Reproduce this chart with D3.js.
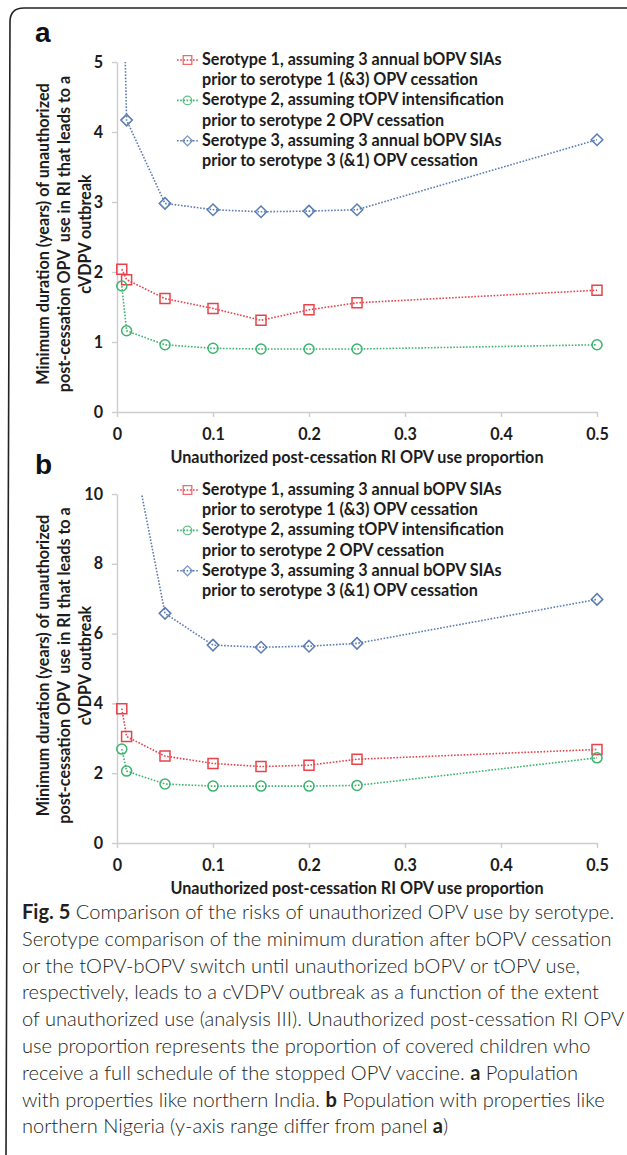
<!DOCTYPE html>
<html>
<head>
<meta charset="utf-8">
<script src="https://cdn.jsdelivr.net/npm/d3@7"></script>
<style>
  html, body { margin: 0; padding: 0; background: #fff; }
  svg { display: block; }
  text { white-space: pre; }
</style>
</head>
<body>
<svg id="fig" width="627" height="1155"></svg>
<script>
// ---- data ---------------------------------------------------------------
const useProportion = [0.005, 0.01, 0.05, 0.1, 0.15, 0.2, 0.25, 0.5];
const xTickValues = [0, 0.1, 0.2, 0.3, 0.4, 0.5];
const xTickLabels = ["0", "0.1", "0.2", "0.3", "0.4", "0.5"];

// Panel a: population like northern India (years)
const indiaSerotype1 = [2.04, 1.89, 1.62, 1.48, 1.31, 1.46, 1.56, 1.74];
const indiaSerotype2 = [1.80, 1.16, 0.96, 0.91, 0.90, 0.90, 0.90, 0.96];
const indiaSerotype3 = [7.2, 4.17, 2.98, 2.89, 2.86, 2.87, 2.89, 3.89];
const indiaYTicks = [0, 1, 2, 3, 4, 5];

// Panel b: population like northern Nigeria (years)
const nigeriaSerotype1 = [3.85, 3.05, 2.49, 2.28, 2.19, 2.23, 2.40, 2.68];
const nigeriaSerotype2 = [2.69, 2.06, 1.69, 1.63, 1.63, 1.63, 1.65, 2.44];
const nigeriaSerotype3 = [20, 12.2, 6.58, 5.67, 5.61, 5.64, 5.72, 6.98];
const nigeriaYTicks = [0, 2, 4, 6, 8, 10];

const legendLabels = [
  ["Serotype 1, assuming 3 annual bOPV SIAs", "prior to serotype 1 (&3) OPV cessation"],
  ["Serotype 2, assuming tOPV intensification", "prior to serotype 2 OPV cessation"],
  ["Serotype 3, assuming 3 annual bOPV SIAs", "prior to serotype 3 (&1) OPV cessation"]
];
const yTitleLines = [
  "Minimum duration (years) of unauthorized",
  "post-cessation OPV  use in RI that leads to a",
  "cVDPV outbreak"
];
const xTitle = "Unauthorized post-cessation RI OPV use proportion";

const captionLines = [
  [["Fig. 5", true], [" Comparison of the risks of unauthorized OPV use by serotype.", false]],
  [["Serotype comparison of the minimum duration after bOPV cessation", false]],
  [["or the tOPV-bOPV switch until unauthorized bOPV or tOPV use,", false]],
  [["respectively, leads to a cVDPV outbreak as a function of the extent", false]],
  [["of unauthorized use (analysis III). Unauthorized post-cessation RI OPV", false]],
  [["use proportion represents the proportion of covered children who", false]],
  [["receive a full schedule of the stopped OPV vaccine. ", false], ["a", true], [" Population", false]],
  [["with properties like northern India. ", false], ["b", true], [" Population with properties like", false]],
  [["northern Nigeria (y-axis range differ from panel ", false], ["a", true], [")", false]]
];

// ---- styling ------------------------------------------------------------
const chartFont = "Lato, 'Open Sans', 'DejaVu Sans', sans-serif";
const captionFont = "Lato, 'Open Sans', 'DejaVu Sans', sans-serif";
const textColor = "#1c1c1c";
const axisColor = "#cdcdcd";
const seriesStyle = [
  { color: "#e8434b", shape: "square" },
  { color: "#3cb46e", shape: "circle" },
  { color: "#5b7db1", shape: "diamond" }
];

const svg = d3.select("#fig");
svg.append("rect").attr("width", 627).attr("height", 1155).attr("fill", "#fff");

// text width helper, used to size fonts to the available room
function measure(str, family, weight, size) {
  const t = svg.append("text")
    .attr("font-family", family).attr("font-weight", weight)
    .attr("font-size", size).text(str);
  const w = t.node().getComputedTextLength();
  t.remove();
  return w;
}
const chartSize = 15 * 300 / measure(legendLabels[0][0], chartFont, 700, 15);
const captionSize = 18 * 590 / measure(captionLines[1][0][0], captionFont, 300, 18);

// rounded figure frame
svg.append("path")
  .attr("d", "M6,1160 L10,22 Q10,8 24,8 L660,8")
  .attr("fill", "none").attr("stroke", "#222").attr("stroke-width", 1.6);

function markerPath(shape, s) {
  if (shape === "square") return `M${-s},${-s}H${s}V${s}H${-s}Z`;
  if (shape === "diamond") { const d = s * 1.15; return `M0,${-d}L${d},0L0,${d}L${-d},0Z`; }
  return d3.symbol(d3.symbolCircle, Math.PI * s * s)();
}

function drawPanel(cfg) {
  const g = svg.append("g");
  const x = d3.scaleLinear().domain([0, 0.5]).range([117, 597]);
  const y = d3.scaleLinear().domain([0, cfg.yMax]).range([cfg.bottom, cfg.top]);

  // axes
  const yAxis = g.append("g").attr("transform", "translate(117,0)")
    .call(d3.axisLeft(y).tickValues(cfg.yTicks).tickSize(5).tickSizeOuter(0).tickPadding(9)
      .tickFormat(d3.format("d")));
  const xAxis = g.append("g").attr("transform", `translate(0,${cfg.bottom})`)
    .call(d3.axisBottom(x).tickValues(xTickValues).tickSize(5).tickSizeOuter(0).tickPadding(12)
      .tickFormat((d, i) => xTickLabels[i]));
  [yAxis, xAxis].forEach(a => {
    a.select(".domain").attr("stroke", axisColor).attr("stroke-width", 1.4);
    a.selectAll(".tick line").attr("stroke", axisColor).attr("stroke-width", 1.4);
    a.selectAll(".tick text").attr("fill", textColor).attr("font-family", chartFont)
      .attr("font-weight", 700).attr("font-size", chartSize);
  });

  // axis titles
  g.append("text")
    .attr("x", 357).attr("y", cfg.bottom + 51)
    .attr("text-anchor", "middle").attr("font-family", chartFont).attr("font-weight", 700)
    .attr("font-size", chartSize).attr("fill", textColor).text(xTitle);
  const midY = (cfg.top + cfg.bottom) / 2 - 3;
  yTitleLines.forEach((line, i) => {
    g.append("text")
      .attr("transform", `translate(${49 + i * 21},${midY}) rotate(-90)`)
      .attr("text-anchor", "middle").attr("font-family", chartFont).attr("font-weight", 700)
      .attr("font-size", chartSize).attr("fill", textColor).text(line);
  });

  // panel letter
  g.append("text").attr("x", 35).attr("y", cfg.top - 20)
    .attr("font-family", "'Liberation Sans', Arial, sans-serif").attr("font-weight", 700)
    .attr("font-size", 28).attr("fill", "#111").text(cfg.letter);

  // series
  const clipId = "clip-" + cfg.letter;
  g.append("clipPath").attr("id", clipId).append("rect")
    .attr("x", 105).attr("y", cfg.top).attr("width", 510).attr("height", cfg.bottom - cfg.top + 10);
  const plot = g.append("g").attr("clip-path", `url(#${clipId})`);
  const line = d3.line().x(d => x(d[0])).y(d => y(d[1]));
  cfg.series.forEach((vals, si) => {
    const st = seriesStyle[si];
    const pts = useProportion.map((p, i) => [p, vals[i]]);
    plot.append("path").datum(pts).attr("d", line)
      .attr("fill", "none").attr("stroke", st.color).attr("stroke-width", 1.6)
      .attr("stroke-dasharray", "1.6,1.6");
    plot.selectAll(null).data(pts).join("path")
      .attr("transform", d => `translate(${x(d[0])},${y(d[1])})`)
      .attr("d", markerPath(st.shape, 5))
      .attr("fill", "none").attr("stroke", st.color).attr("stroke-width", 1.5);
  });

  // legend
  legendLabels.forEach((lines, si) => {
    const st = seriesStyle[si];
    const cy = cfg.legendTop + si * 40.4;
    g.append("line").attr("x1", 177).attr("x2", 198).attr("y1", cy).attr("y2", cy)
      .attr("stroke", st.color).attr("stroke-width", 1.6).attr("stroke-dasharray", "1.6,1.6");
    g.append("path").attr("transform", `translate(187.5,${cy})`).attr("d", markerPath(st.shape, 4.3))
      .attr("fill", "none").attr("stroke", st.color).attr("stroke-width", 1.3).attr("opacity", 0.8);
    lines.forEach((t, li) => {
      g.append("text").attr("x", 202).attr("y", cy + 5 + li * 20.2)
        .attr("font-family", chartFont).attr("font-weight", 700)
        .attr("font-size", chartSize).attr("fill", textColor).text(t);
    });
  });
}

drawPanel({
  letter: "a", top: 62, bottom: 412, yMax: 5, yTicks: indiaYTicks, legendTop: 60,
  series: [indiaSerotype1, indiaSerotype2, indiaSerotype3]
});
drawPanel({
  letter: "b", top: 494, bottom: 843, yMax: 10, yTicks: nigeriaYTicks, legendTop: 490,
  series: [nigeriaSerotype1, nigeriaSerotype2, nigeriaSerotype3]
});

// caption
const cap = svg.append("g");
captionLines.forEach((segs, i) => {
  const t = cap.append("text").attr("x", 22).attr("y", 919 + i * 26.8)
    .attr("font-family", captionFont).attr("font-size", captionSize).attr("fill", "#231f20");
  segs.forEach(([s, bold]) => {
    t.append("tspan").attr("font-weight", bold ? 700 : 300).text(s);
  });
});
</script>
</body>
</html>
